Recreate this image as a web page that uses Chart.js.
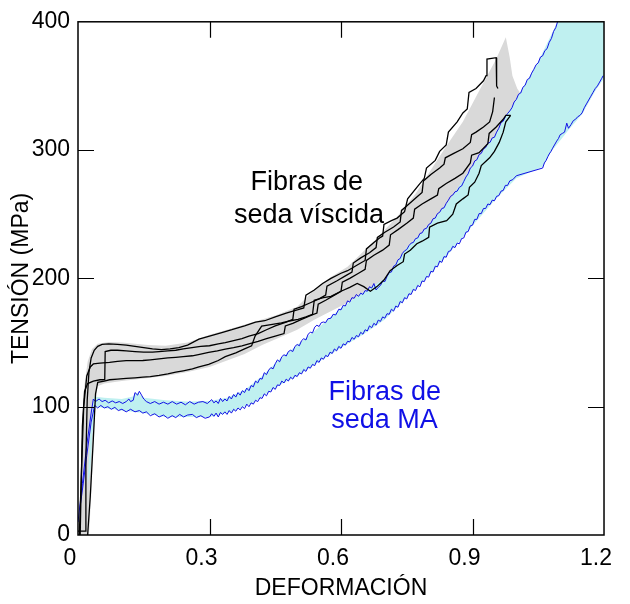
<!DOCTYPE html>
<html>
<head>
<meta charset="utf-8">
<script src="https://cdn.jsdelivr.net/npm/chart.js@4.4.0/dist/chart.umd.min.js"></script>
<style>
html,body{margin:0;padding:0;background:#fff;}
#wrap{width:630px;height:604px;position:relative;}
</style>
</head>
<body>
<div id="wrap"><canvas id="c" width="630" height="604"></canvas></div>
<script>
// ---------- DATA ----------
const xTickLabels = ['0','0.3','0.6','0.9','1.2'];
const yTickLabels = ['0','100','200','300','400'];
const xTitle = 'DEFORMACIÓN';
const yTitle = 'TENSIÓN (MPa)';
const viscidLabel = ['Fibras de','seda víscida'];
const maLabel = ['Fibras de','seda MA'];

// viscid silk curves (black)
const viscid1 = [[0,3],[0.016,3],[0.018,60],[0.021,105],[0.025,127],[0.03,138],[0.037,144],[0.045,147],[0.055,148.5],[0.07,149],[0.09,148.5],[0.11,148],[0.13,147],[0.15,146],[0.17,145],[0.19,144.5],[0.21,145],[0.23,146],[0.25,148],[0.276,152.6],[0.3,155],[0.33,158],[0.351,160],[0.38,163],[0.405,166],[0.426,167],[0.45,170],[0.475,173],[0.502,175.6],[0.515,177],[0.52,187],[0.539,191],[0.558,196],[0.577,200],[0.6,204],[0.615,206],[0.64,211],[0.655,214],[0.658,223],[0.675,228],[0.69,232],[0.695,233],[0.698,242],[0.715,245],[0.728,247],[0.745,252],[0.752,262],[0.773,271],[0.79,278],[0.795,286],[0.815,292],[0.825,299],[0.84,304],[0.845,314],[0.865,322],[0.878,329],[0.888,332],[0.892,345],[0.908,348],[0.925,354],[0.931,358],[0.933,371],[0.954,372],[0.955,350],[0.958,348]];
const viscid2 = [[0.005,0],[0.01,85],[0.015,112],[0.022,118],[0.035,120],[0.05,121],[0.061,121],[0.062,143],[0.075,144],[0.09,144],[0.11,143.5],[0.13,143],[0.15,142.5],[0.17,142.5],[0.185,143],[0.205,143.5],[0.223,144],[0.24,145],[0.26,146],[0.28,147],[0.3,147.5],[0.32,149],[0.336,150],[0.355,151.5],[0.374,153],[0.39,155],[0.411,157],[0.43,160],[0.45,163],[0.475,166],[0.49,168],[0.493,176],[0.51,178],[0.53,181],[0.55,184],[0.565,187],[0.568,194],[0.59,198],[0.61,202],[0.625,205],[0.628,212],[0.645,216],[0.665,220],[0.68,224],[0.683,232],[0.7,236],[0.72,240],[0.735,244],[0.738,253],[0.755,258],[0.775,264],[0.785,267],[0.788,276],[0.805,281],[0.825,286],[0.835,289],[0.838,294],[0.855,297],[0.878,301],[0.895,306],[0.898,312],[0.908,314],[0.925,318],[0.939,322],[0.946,330],[0.95,341]];
const viscid3 = [[0.003,0],[0.008,50],[0.013,100],[0.02,124],[0.028,131],[0.035,133.3],[0.05,134],[0.072,134.6],[0.09,135.3],[0.11,135.9],[0.13,135.9],[0.148,136],[0.165,136.5],[0.185,137.2],[0.205,138],[0.223,138.5],[0.24,139],[0.261,139.7],[0.28,141],[0.298,142.3],[0.318,143.5],[0.336,144.9],[0.355,146],[0.374,147.4],[0.39,149],[0.411,151],[0.43,153],[0.45,155],[0.47,157],[0.473,163],[0.49,165],[0.51,168],[0.53,171],[0.545,173],[0.548,180],[0.565,183],[0.585,187],[0.6,190],[0.603,197],[0.62,200],[0.64,204],[0.655,207],[0.658,214],[0.675,218],[0.695,222],[0.71,226],[0.713,234],[0.73,238],[0.75,243],[0.765,247],[0.768,254],[0.785,258],[0.805,262],[0.82,265],[0.823,270],[0.84,274],[0.86,278],[0.878,282],[0.895,290],[0.898,296],[0.915,298],[0.935,305],[0.938,313],[0.954,318],[0.97,324],[0.976,327],[0.987,327]];
const viscid4 = [[0.022,0],[0.028,30],[0.035,75],[0.04,110],[0.045,119],[0.06,120],[0.072,121],[0.09,121.5],[0.11,122],[0.13,122.5],[0.148,123],[0.165,123.5],[0.185,124.4],[0.205,125.5],[0.223,126.9],[0.24,128],[0.261,129.5],[0.276,131],[0.298,133],[0.32,136],[0.336,139],[0.36,142],[0.38,145],[0.396,147.4],[0.404,155],[0.419,162.8],[0.44,164],[0.464,165.4],[0.485,167],[0.502,168],[0.52,170],[0.535,172],[0.539,183],[0.56,185],[0.577,186],[0.6,190],[0.62,193],[0.637,196],[0.652,193.6],[0.667,190],[0.682,193.6],[0.698,198.7],[0.712,206],[0.728,210],[0.742,213],[0.745,219],[0.758,222],[0.773,227],[0.785,229],[0.8,232],[0.802,240],[0.82,243],[0.841,245],[0.855,250],[0.863,258],[0.878,262],[0.89,265],[0.893,271],[0.905,275],[0.915,282],[0.92,288],[0.939,294],[0.95,299],[0.961,306],[0.97,314],[0.976,322],[0.987,327]];

// MA silk curves (blue)
const ma1 = [[0,10],[0.01,40],[0.02,70],[0.03,95],[0.035,106],[0.04,104],[0.048,106],[0.055,104],[0.062,105],[0.07,103],[0.078,104.5],[0.086,103],[0.094,104],[0.102,102.5],[0.11,104],[0.116,106],[0.12,104],[0.126,105],[0.13,111],[0.136,109],[0.14,112],[0.145,109],[0.15,106],[0.156,104],[0.165,102.5],[0.175,104],[0.185,102],[0.195,103.5],[0.205,102],[0.215,104],[0.225,102],[0.235,103.5],[0.245,101.5],[0.255,104],[0.265,102],[0.275,103.5],[0.285,104],[0.295,102.5],[0.305,105.5],[0.31,103],[0.315,104.5],[0.32,102.5],[0.325,106.5],[0.33,104],[0.335,106],[0.34,104.5],[0.345,108],[0.35,106],[0.355,109.5],[0.36,107.5],[0.365,111],[0.37,109],[0.375,112.5],[0.38,111],[0.385,114.5],[0.39,112.5],[0.395,116.5],[0.4,115.5],[0.405,120],[0.41,118.5],[0.415,122],[0.42,121.5],[0.425,126.5],[0.43,125],[0.435,128.5],[0.44,130.5],[0.445,129.5],[0.45,133.5],[0.455,136.5],[0.46,135],[0.465,139],[0.47,140.5],[0.475,139.5],[0.48,143],[0.485,144],[0.49,143],[0.495,147],[0.5,148.5],[0.505,147.5],[0.51,151.5],[0.515,153],[0.52,152],[0.525,156.5],[0.53,158],[0.535,157.5],[0.54,162],[0.545,163.5],[0.55,162.5],[0.555,165.5],[0.56,166],[0.565,165.5],[0.57,168.5],[0.577,169],[0.582,172],[0.588,171.5],[0.595,176],[0.6,175.5],[0.605,179],[0.61,178.5],[0.615,182.5],[0.62,181.5],[0.625,185],[0.63,184.5],[0.635,187.5],[0.64,186],[0.645,188.5],[0.65,187.5],[0.655,190.5],[0.66,190],[0.665,193.5],[0.67,192.5],[0.675,196],[0.68,191],[0.685,193],[0.69,194.5],[0.695,198],[0.7,197.5],[0.705,201.5],[0.71,204.5],[0.715,205],[0.72,209.5],[0.725,210.5],[0.73,214.5],[0.735,215.5],[0.74,219.5],[0.745,221.5],[0.75,222.5],[0.755,225.5],[0.76,227.5],[0.765,228],[0.77,231],[0.775,231.5],[0.78,235],[0.785,235.5],[0.79,238.5],[0.795,239],[0.8,242],[0.805,243],[0.81,246.5],[0.815,247],[0.82,250.5],[0.825,251.5],[0.83,254.5],[0.835,255],[0.84,258.5],[0.845,261],[0.85,264],[0.855,265],[0.86,267.5],[0.865,268],[0.87,271],[0.875,272],[0.88,275.5],[0.885,279],[0.89,281.5],[0.895,286],[0.9,287.5],[0.905,291.5],[0.91,292.5],[0.915,296.5],[0.92,297.5],[0.925,301],[0.93,302],[0.935,305.5],[0.94,306],[0.945,309.5],[0.95,310],[0.955,314],[0.96,317],[0.965,321.5],[0.97,322.5],[0.975,326],[0.98,328.5],[0.985,330.5],[0.99,333],[0.995,337.5],[1.0,339.5],[1.005,343.5],[1.01,344.5],[1.015,349],[1.02,350.5],[1.025,355],[1.03,356],[1.035,360],[1.04,363],[1.045,366.5],[1.05,368],[1.055,372.5],[1.06,373.5],[1.065,377.5],[1.07,379],[1.075,384],[1.08,387],[1.085,392.5],[1.09,395.5],[1.094,400],[1.1,405]];
const ma2 = [[0.004,20],[0.01,35],[0.02,62],[0.03,88],[0.038,101],[0.045,99],[0.052,101],[0.06,99],[0.068,100],[0.076,98],[0.084,99.5],[0.092,97],[0.1,98],[0.11,96],[0.12,98],[0.13,96],[0.14,97],[0.148,95],[0.156,96],[0.165,93],[0.175,94.5],[0.185,92],[0.195,93.5],[0.205,91],[0.215,93],[0.223,91.5],[0.232,94],[0.241,92],[0.25,93.5],[0.261,94],[0.27,91.5],[0.28,93],[0.29,91],[0.3,92],[0.305,94.5],[0.31,92.5],[0.315,95],[0.32,92],[0.325,95.5],[0.33,94],[0.335,96],[0.34,94],[0.345,97],[0.35,95],[0.355,98],[0.36,96.5],[0.365,99],[0.37,97.5],[0.375,100],[0.38,98.5],[0.385,102],[0.39,100],[0.395,103],[0.4,102],[0.405,105],[0.41,104],[0.415,107],[0.42,106.5],[0.425,110],[0.43,108.5],[0.435,112],[0.44,111.5],[0.445,115],[0.45,113.5],[0.455,117],[0.46,116.5],[0.465,120],[0.47,118.5],[0.475,121.5],[0.48,120],[0.485,123],[0.49,121.5],[0.495,124.5],[0.5,123.5],[0.505,126.5],[0.51,125.5],[0.515,129],[0.52,127.5],[0.525,131],[0.53,130],[0.535,133],[0.54,132],[0.545,136],[0.55,134.5],[0.555,138],[0.56,137],[0.565,140],[0.57,139],[0.575,142.5],[0.58,141.5],[0.585,145],[0.59,143.5],[0.595,147],[0.6,145.5],[0.605,149],[0.61,148],[0.615,151],[0.62,150.5],[0.625,154],[0.63,152.5],[0.635,155.5],[0.64,154.5],[0.645,158],[0.65,156.5],[0.655,160],[0.66,159],[0.665,163],[0.67,161.5],[0.675,165],[0.68,163.5],[0.685,167.5],[0.69,166.5],[0.695,170],[0.7,169],[0.705,172.5],[0.71,172],[0.715,176],[0.72,174.5],[0.725,178.5],[0.73,177.5],[0.735,182],[0.74,181],[0.745,185],[0.75,184],[0.755,188],[0.76,187.5],[0.765,191.5],[0.77,190.5],[0.775,194.5],[0.78,193.5],[0.785,198],[0.79,197.5],[0.795,201.5],[0.8,201],[0.805,205.5],[0.81,205],[0.815,209.5],[0.82,209],[0.825,213.5],[0.83,212.5],[0.835,217],[0.84,216.5],[0.845,221],[0.85,221.5],[0.855,225],[0.86,224],[0.865,227.5],[0.87,227],[0.875,231],[0.88,231.5],[0.885,236],[0.89,236.5],[0.895,241],[0.9,241.5],[0.905,246],[0.91,246],[0.915,250.5],[0.92,250.5],[0.925,254.5],[0.93,254.5],[0.935,258],[0.94,257.5],[0.945,261],[0.95,260.5],[0.955,264],[0.96,264.5],[0.965,268],[0.97,268.5],[0.975,272.5],[0.98,272.5],[0.985,276],[0.992,277],[1.0,280],[1.06,286],[1.064,290],[1.068,292],[1.072,295],[1.075,297],[1.079,299],[1.082,301],[1.087,304],[1.092,307],[1.096,309],[1.1,312],[1.105,313],[1.11,314],[1.115,321],[1.119,317],[1.125,320],[1.13,323],[1.135,324],[1.14,326],[1.145,327],[1.15,329],[1.155,333],[1.16,336],[1.165,339],[1.17,342],[1.175,345],[1.18,348],[1.185,350],[1.19,353],[1.195,356],[1.198,358]];

// band limits
const viscidBandUpper = [[0.003,0],[0.008,70],[0.014,115],[0.022,135],[0.032,145],[0.045,149],[0.07,150.5],[0.1,150],[0.13,149],[0.16,148],[0.2,147.5],[0.25,150],[0.3,156],[0.35,161],[0.4,166],[0.45,171],[0.5,178],[0.539,191],[0.577,201],[0.615,209],[0.675,229],[0.728,248],[0.77,266],[0.802,283],[0.84,303],[0.878,322],[0.915,346],[0.954,371],[0.976,388],[0.985,372],[0.991,358],[1.002,348],[1.014,342]];
const viscidBandLower = [[0.025,0],[0.03,30],[0.035,70],[0.04,105],[0.045,116],[0.06,118],[0.1,120],[0.15,122],[0.2,124],[0.25,127],[0.3,131],[0.34,136],[0.38,141],[0.42,148],[0.46,154],[0.5,160],[0.54,168],[0.58,175],[0.615,181],[0.64,186],[0.675,190],[0.7,197],[0.74,212],[0.773,225],[0.8,230],[0.84,242],[0.87,257],[0.9,272],[0.93,288],[0.96,303],[0.987,325],[1.014,342]];
const maBandUpper = [[0.022,40],[0.03,90],[0.036,108],[0.06,107],[0.1,106],[0.125,108],[0.135,111],[0.15,107],[0.2,105],[0.25,104],[0.3,104.5],[0.34,107],[0.38,113],[0.42,124],[0.46,137],[0.5,148],[0.55,162],[0.6,177],[0.65,189],[0.7,200],[0.75,224],[0.8,241],[0.85,262],[0.9,288],[0.95,311],[1.0,340],[1.05,369],[1.094,400],[1.2,400]];
const maBandLower = [[0.028,50],[0.033,80],[0.04,100],[0.06,99],[0.1,97],[0.15,95],[0.2,92],[0.25,92],[0.3,92],[0.35,96],[0.4,103],[0.45,115],[0.5,124],[0.55,135],[0.6,146],[0.65,156],[0.7,168],[0.75,185],[0.8,202],[0.85,221],[0.9,241],[0.954,262],[1.0,278],[1.06,287],[1.08,299],[1.12,316],[1.15,328],[1.18,346],[1.2,356]];

// ---------- BUILD ----------
const toPts = a => a.map(p => ({x:p[0], y:p[1]}));
const polygon = (up, low) => toPts(up.concat(low.slice().reverse()));
const FONT = 'Liberation Sans, Arial, Helvetica, sans-serif';
const BLUE = '#1010e6';

function lineDs(arr, color, w, order){
  return {data: toPts(arr), borderColor: color, borderWidth: w, pointRadius: 0, fill: false, tension: 0, order: order};
}
function bandDs(up, low, color, order){
  return {data: polygon(up, low), borderWidth: 0, borderColor: 'rgba(0,0,0,0)', backgroundColor: color, pointRadius: 0, fill: 'shape', tension: 0, order: order};
}

const frame = {
  id: 'frame',
  afterDraw(chart){
    const {ctx, chartArea: a, scales: {x, y}} = chart;
    const L = 16;
    ctx.save();
    ctx.strokeStyle = '#000';
    ctx.lineWidth = 1.5;
    ctx.strokeRect(a.left, a.top, a.right - a.left, a.bottom - a.top);
    ctx.beginPath();
    x.ticks.forEach(t => {
      const px = Math.round(x.getPixelForValue(t.value)) + 0.5;
      if (px <= a.left + 2 || px >= a.right - 2) return;
      ctx.moveTo(px, a.bottom); ctx.lineTo(px, a.bottom - L);
      ctx.moveTo(px, a.top); ctx.lineTo(px, a.top + L);
    });
    y.ticks.forEach(t => {
      const py = Math.round(y.getPixelForValue(t.value)) + 0.5;
      if (py <= a.top + 2 || py >= a.bottom - 2) return;
      ctx.moveTo(a.left, py); ctx.lineTo(a.left + L, py);
      ctx.moveTo(a.right, py); ctx.lineTo(a.right - L, py);
    });
    ctx.lineWidth = 1.2;
    ctx.stroke();
    // annotations
    ctx.font = '27px ' + FONT;
    ctx.textAlign = 'center';
    ctx.textBaseline = 'middle';
    ctx.fillStyle = '#000';
    ctx.fillText(viscidLabel[0], x.getPixelForValue(0.522), y.getPixelForValue(275));
    ctx.fillText(viscidLabel[1], x.getPixelForValue(0.527), y.getPixelForValue(249));
    ctx.fillStyle = BLUE;
    ctx.fillText(maLabel[0], x.getPixelForValue(0.7), y.getPixelForValue(111));
    ctx.fillText(maLabel[1], x.getPixelForValue(0.699), y.getPixelForValue(89));
    ctx.restore();
  }
};

new Chart(document.getElementById('c'), {
  type: 'line',
  data: {
    datasets: [
      lineDs(viscid1, '#000', 1.3, 1),
      lineDs(viscid2, '#000', 1.3, 1),
      lineDs(viscid3, '#000', 1.3, 1),
      lineDs(viscid4, '#000', 1.3, 1),
      lineDs(ma1, BLUE, 1, 2),
      lineDs(ma2, BLUE, 1, 2),
      bandDs(maBandUpper, maBandLower, '#bff0f0', 3),
      bandDs(viscidBandUpper, viscidBandLower, '#d9d9d9', 4)
    ]
  },
  options: {
    responsive: false,
    animation: false,
    devicePixelRatio: 1,
    layout: {padding: {top: 15, right: 21, left: 0, bottom: 0}},
    plugins: {legend: {display: false}, tooltip: {enabled: false}},
    scales: {
      x: {
        type: 'linear', min: 0, max: 1.2,
        grid: {display: false, drawTicks: false},
        border: {display: false},
        ticks: {
          stepSize: 0.3, color: '#000', padding: 10, maxRotation: 0, labelOffset: -8,
          font: {family: FONT, size: 23},
          callback: (v) => xTickLabels[Math.round(v / 0.3)]
        },
        title: {display: true, text: xTitle, color: '#000', font: {family: FONT, size: 23}, padding: {top: 0, bottom: 2}},
        afterFit: s => { s.height = 69; }
      },
      y: {
        type: 'linear', min: 0, max: 400,
        grid: {display: false, drawTicks: false},
        border: {display: false},
        ticks: {
          stepSize: 100, color: '#000', padding: 8,
          font: {family: FONT, size: 23},
          callback: (v) => yTickLabels[Math.round(v / 100)]
        },
        title: {display: true, text: yTitle, color: '#000', font: {family: FONT, size: 23}, padding: {top: 8, bottom: 0}},
        afterFit: s => { s.width = 78; }
      }
    }
  },
  plugins: [frame]
});
</script>
</body>
</html>
